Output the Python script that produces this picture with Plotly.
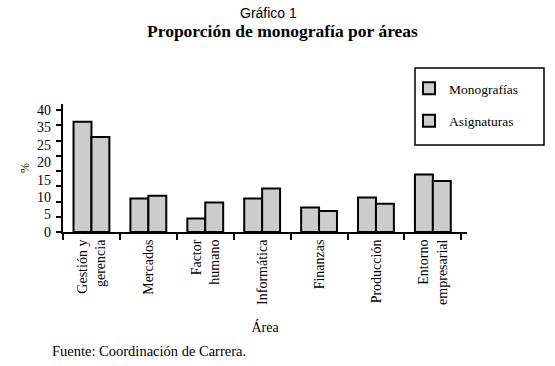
import plotly.graph_objects as go

categories = ["Gestión y<br>gerencia", "Mercados", "Factor<br>humano", "Informática",
              "Finanzas", "Producción", "Entorno<br>empresarial"]
monografias = [36.2, 11.0, 4.4, 11.0, 8.0, 11.3, 18.9]
asignaturas = [31.2, 11.9, 9.7, 14.3, 6.9, 9.3, 16.7]
y_tick_labels = ["0", "5", "10", "15", "20", "25", "35", "40"]

SERIF = "Liberation Serif, Times New Roman, serif"
SANS = "Liberation Sans, Arial, sans-serif"

W, H = 555, 366
L, R, T, B = 63, 88, 104, 134
PW, PH = W - L - R, H - T - B


def px_x(x):
    return (x - L) / PW


def px_y(y):
    return (H - B - y) / PH


fig = go.Figure()
fig.add_trace(go.Bar(name="Monografías", x=categories, y=monografias,
                     marker=dict(color="#CCCCCC", line=dict(color="black", width=2)),
                     legendgroup="m"))
fig.add_trace(go.Bar(name="Asignaturas", x=categories, y=asignaturas,
                     marker=dict(color="#CCCCCC", line=dict(color="black", width=2)),
                     legendgroup="a"))
# invisible trace so the second y axis (label axis) renders
fig.add_trace(go.Scatter(x=[categories[0]], y=[0], yaxis="y2", mode="markers",
                         marker=dict(opacity=0), showlegend=False, hoverinfo="skip"))

ymax = 42
n = len(y_tick_labels) - 1
label_pos = [40 * i / n for i in range(len(y_tick_labels))]

fig.update_layout(
    width=W, height=H,
    margin=dict(l=L, r=R, t=T, b=B, autoexpand=False),
    paper_bgcolor="white", plot_bgcolor="white",
    barmode="group", bargap=0.37, bargroupgap=0,
    showlegend=True,
    legend=dict(x=px_x(409), y=px_y(73), xanchor="left", yanchor="top",
                bgcolor="rgba(0,0,0,0)", borderwidth=0,
                font=dict(family=SERIF, size=13.5, color="black"),
                tracegroupgap=12, itemwidth=30),
    xaxis=dict(type="category", range=[-0.5, 6.6], tickson="boundaries",
               automargin=False,
               showline=True, linecolor="black", linewidth=2,
               ticks="outside", ticklen=6, tickwidth=1.5, tickcolor="black",
               tickangle=-90, showgrid=False,
               tickfont=dict(family=SERIF, size=14, color="black"),
               title=dict(text="Área", standoff=18,
                          font=dict(family=SERIF, size=14, color="black"))),
    yaxis=dict(range=[0, ymax], tickvals=[0, 5, 10, 15, 20, 25, 30, 35, 40],
               automargin=False,
               showticklabels=False, showline=True, linecolor="black", linewidth=2,
               ticks="outside", ticklen=5, tickwidth=1.5, tickcolor="black",
               showgrid=False, zeroline=False,
               title=dict(text="%", standoff=24,
                          font=dict(family=SERIF, size=12, color="black"))),
    yaxis2=dict(range=[0, ymax], overlaying="y", side="left", anchor="x",
                automargin=False,
                tickvals=label_pos, ticktext=y_tick_labels, ticks="",
                ticklabelstandoff=11, showgrid=False, zeroline=False, showline=False,
                tickfont=dict(family=SERIF, size=14, color="black")),
    shapes=[dict(type="rect", xref="paper", yref="paper",
                 x0=px_x(415), x1=px_x(544), y0=px_y(145), y1=px_y(68),
                 line=dict(color="black", width=1.5), fillcolor="rgba(0,0,0,0)")],
    annotations=[
        dict(text="Gráfico 1", x=px_x(268), y=px_y(13), xref="paper", yref="paper",
             showarrow=False, xanchor="center", yanchor="middle",
             font=dict(family=SANS, size=14, color="black")),
        dict(text="<b>Proporción de monografía por áreas</b>", x=px_x(282), y=px_y(31),
             xref="paper", yref="paper", showarrow=False,
             xanchor="center", yanchor="middle",
             font=dict(family=SERIF, size=17.5, color="black")),
        dict(text="Fuente: Coordinación de Carrera.", x=px_x(50), y=px_y(351),
             xref="paper", yref="paper", showarrow=False,
             xanchor="left", yanchor="middle",
             font=dict(family=SERIF, size=14.5, color="black")),
    ],
)

fig.write_html("out.html", config={"displayModeBar": False},
               post_script="document.body.style.margin='0';document.body.style.padding='0';")
